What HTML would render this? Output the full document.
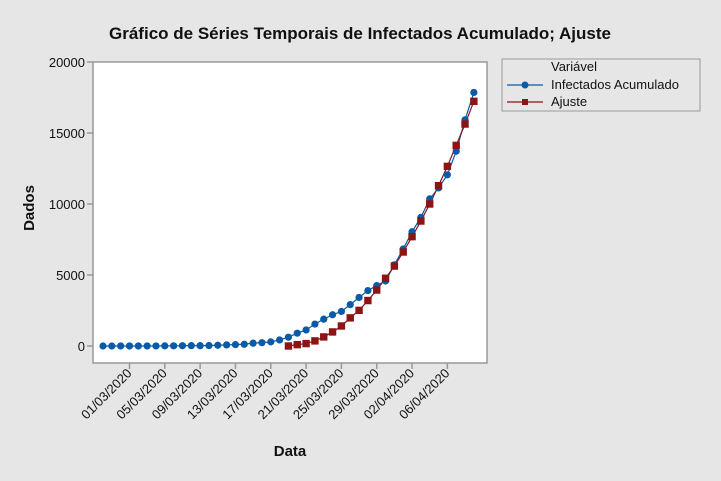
<!DOCTYPE html>
<html><head><meta charset="utf-8"><style>
body{margin:0;background:#e6e6e6;}
svg{display:block;font-family:"Liberation Sans","DejaVu Sans",sans-serif;}
</style></head><body>
<svg id="c" width="721" height="481" viewBox="0 0 721 481">
<rect x="0" y="0" width="721" height="481" fill="#e6e6e6"/>
<text x="360" y="39" text-anchor="middle" font-size="17" font-weight="bold" fill="#111">Gráfico de Séries Temporais de Infectados Acumulado; Ajuste</text>
<rect x="93" y="62" width="394" height="301" fill="#fff" stroke="#999" stroke-width="1.5"/>
<g id="axes"></g>
<g id="series"></g>
<text x="290" y="456" text-anchor="middle" font-size="15" font-weight="bold" fill="#111">Data</text>
<text transform="translate(34,208) rotate(-90)" text-anchor="middle" font-size="15" font-weight="bold" fill="#111">Dados</text>
<g>
<rect x="502" y="59" width="198" height="52" fill="#e6e6e6" stroke="#999"/>
<text x="551" y="71" font-size="13" fill="#111">Variável</text>
<line x1="507" y1="85" x2="543" y2="85" stroke="#0a5aa8" stroke-width="1.3"/>
<circle cx="525" cy="85" r="3.5" fill="#0a5aa8"/>
<text x="551" y="89" font-size="13" fill="#111">Infectados Acumulado</text>
<line x1="507" y1="102" x2="543" y2="102" stroke="#8b1414" stroke-width="1.3"/>
<rect x="522" y="99" width="6" height="6" fill="#8b1414"/>
<text x="551" y="106" font-size="13" fill="#111">Ajuste</text>
</g>
</svg>
<script>
const infectados=[1,1,2,2,2,2,3,8,13,19,25,25,34,52,77,98,121,200,234,291,428,621,904,1128,1546,1891,2201,2433,2915,3417,3904,4256,4579,5717,6836,8044,9056,10360,11130,12056,13717,15927,17857];
const ajusteStart=21;
const ajuste=[0,95,170,360,640,990,1410,1980,2510,3200,3940,4770,5630,6620,7700,8800,10000,11290,12650,14130,15630,17230];
const yTicks=[0,5000,10000,15000,20000];
const xTickIdx=[3,7,11,15,19,23,27,31,35,39];
const xTickLabels=["01/03/2020","05/03/2020","09/03/2020","13/03/2020","17/03/2020","21/03/2020","25/03/2020","29/03/2020","02/04/2020","06/04/2020"];
const NS="http://www.w3.org/2000/svg";
const X=i=>103+i*8.83;
const Y=v=>346-v*(284/20000);
const axes=document.getElementById('axes'),ser=document.getElementById('series');
function mk(tag,attrs,parent){const e=document.createElementNS(NS,tag);for(const k in attrs)e.setAttribute(k,attrs[k]);parent.appendChild(e);return e;}
yTicks.forEach(v=>{
 const l=mk('line',{x1:87,x2:93,y1:Y(v),y2:Y(v),stroke:'#999','stroke-width':1.5},axes);
 
 
 const t=mk('text',{x:85,y:Y(v)+5,'text-anchor':'end','font-size':13,fill:'#111'},axes);
 
 
 t.textContent=v;
});
xTickIdx.forEach((i,k)=>{
 const l=mk('line',{x1:X(i),x2:X(i),y1:363,y2:369,stroke:'#999','stroke-width':1.5},axes);
 
 
 const t=mk('text',{transform:`translate(${X(i)+3},${374}) rotate(-45)`,'text-anchor':'end','font-size':13,fill:'#111'},axes);
 
 
 t.textContent=xTickLabels[k];
});
const p1=mk('polyline',{points:infectados.map((v,i)=>X(i)+','+Y(v)).join(' '),fill:'none',stroke:'#0a5aa8','stroke-width':1.2},ser);


const p2=mk('polyline',{points:ajuste.map((v,i)=>X(i+ajusteStart)+','+Y(v)).join(' '),fill:'none',stroke:'#8b1414','stroke-width':1.2},ser);


infectados.forEach((v,i)=>{
 const c=mk('circle',{cx:X(i),cy:Y(v),r:3.6,fill:'#0a5aa8'},ser);
 
 
});
ajuste.forEach((v,i)=>{
 const r=mk('rect',{x:X(i+ajusteStart)-3.7,y:Y(v)-3.7,width:7.4,height:7.4,fill:'#8b1414'},ser);
 
 
});
</script>
</body></html>
